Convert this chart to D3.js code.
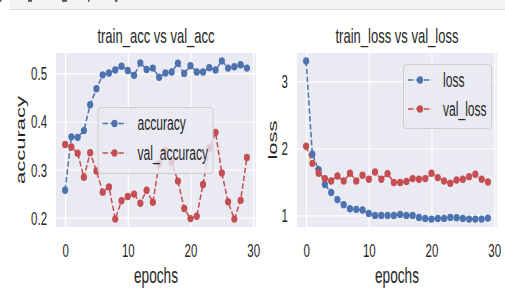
<!DOCTYPE html>
<html>
<head>
<meta charset="utf-8">
<script src="https://cdn.jsdelivr.net/npm/d3@7/dist/d3.min.js"></script>
<style>
  html, body { margin: 0; padding: 0; background: #ffffff; }
  svg { display: block; }
  text { font-family: "Liberation Sans", Arial, Helvetica, sans-serif; fill: #262626; }
</style>
</head>
<body>
<svg id="chart" width="505" height="293"></svg>
<script>
// ---------------- data ----------------
const epochs = [0,1,2,3,4,5,6,7,8,9,10,11,12,13,14,15,16,17,18,19,20,21,22,23,24,25,26,27,28,29];
const accuracy = [0.257, 0.368, 0.367, 0.381, 0.435, 0.468, 0.497, 0.501, 0.507, 0.515,
                  0.506, 0.496, 0.522, 0.508, 0.511, 0.492, 0.501, 0.503, 0.521, 0.500,
                  0.516, 0.503, 0.503, 0.512, 0.507, 0.526, 0.511, 0.514, 0.518, 0.511];
const valAccuracy = [0.352, 0.347, 0.334, 0.284, 0.335, 0.297, 0.253, 0.264, 0.197, 0.235,
                     0.244, 0.249, 0.230, 0.257, 0.232, 0.312, 0.340, 0.315, 0.276, 0.219,
                     0.198, 0.203, 0.269, 0.345, 0.377, 0.293, 0.233, 0.197, 0.236, 0.325];
const loss = [3.30, 1.91, 1.68, 1.46, 1.34, 1.235, 1.16, 1.10, 1.09, 1.08,
              1.03, 1.00, 1.00, 1.00, 1.00, 1.015, 1.00, 1.00, 0.97, 0.955,
              0.945, 0.955, 0.955, 0.97, 0.965, 0.955, 0.945, 0.945, 0.945, 0.96];
const valLoss = [2.03, 1.775, 1.627, 1.548, 1.513, 1.587, 1.513, 1.627, 1.513, 1.597,
                 1.538, 1.646, 1.538, 1.622, 1.489, 1.489, 1.504, 1.548, 1.538, 1.548,
                 1.627, 1.563, 1.513, 1.479, 1.528, 1.538, 1.577, 1.612, 1.538, 1.498];
const xTicks = [0, 10, 20, 30];
const accTicks = [0.2, 0.3, 0.4, 0.5];
const lossTicks = [1, 2, 3];
const leftTitle = "train_acc vs val_acc";
const rightTitle = "train_loss vs val_loss";
const xLabel = "epochs";

// ---------------- style ----------------
const BLUE = "#4C72B0", RED = "#C44E52";
const K = 0.62; // horizontal squeeze of the reference image
const svg = d3.select("#chart");

// top notebook strip (only the bottoms of a cut-off code line are visible)
svg.append("rect").attr("x", 10).attr("y", 0).attr("width", 495).attr("height", 9.5).attr("fill", "#f4f4f4");
svg.append("line").attr("x1", 10).attr("x2", 505).attr("y1", 9.5).attr("y2", 9.5)
   .attr("stroke", "#dcdcdc").attr("stroke-width", 1);
const stubs = [[0, 1.5], [28, 4], [62, 5], [88, 1.5], [115, 2.5]];
svg.selectAll(null).data(stubs).enter().append("rect")
   .attr("x", d => d[0]).attr("y", 0).attr("width", d => d[1]).attr("height", 1.8)
   .attr("fill", "#555");

function ctext(g, x, y, str, size, anchor, rotate) {
  return g.append("text")
    .attr("transform", `translate(${x},${y}) scale(${K},1)` + (rotate ? " rotate(-90)" : ""))
    .attr("text-anchor", anchor)
    .style("font-size", size + "px")
    .text(str);
}

function panel(cfg) {
  const g = svg.append("g");
  const pad = (lo, hi) => { const d = (hi - lo) * 0.05; return [lo - d, hi + d]; };
  const xs = d3.scaleLinear().domain(pad(d3.min(epochs), d3.max(epochs))).range([cfg.x0, cfg.x1]);
  const all = cfg.series.flatMap(s => s.data);
  const ys = d3.scaleLinear().domain(pad(d3.min(all), d3.max(all))).range([cfg.y1, cfg.y0]);

  g.append("rect").attr("x", cfg.x0).attr("y", cfg.y0)
    .attr("width", cfg.x1 - cfg.x0).attr("height", cfg.y1 - cfg.y0).attr("fill", "#EAEAF2");

  // grid via axes
  const gx = g.append("g").attr("transform", `translate(0,${cfg.y1})`)
    .call(d3.axisBottom(xs).tickValues(xTicks).tickSize(-(cfg.y1 - cfg.y0)).tickFormat(d3.format("d")));
  const gy = g.append("g").attr("transform", `translate(${cfg.x0},0)`)
    .call(d3.axisLeft(ys).tickValues(cfg.yTicks).tickSize(-(cfg.x1 - cfg.x0)).tickFormat(cfg.yFmt));
  [gx, gy].forEach(a => {
    a.select(".domain").remove();
    a.selectAll(".tick line").attr("stroke", "#ffffff").attr("stroke-width", 1.2);
  });
  gx.selectAll(".tick text")
    .attr("x", null).attr("y", null).attr("dy", null)
    .attr("transform", `translate(0,29.5) scale(${K},1)`)
    .attr("text-anchor", "middle")
    .style("font-size", "18.5px").style("font-family", "Liberation Sans, Arial, sans-serif").attr("fill", "#262626");
  gy.selectAll(".tick text")
    .attr("x", null).attr("y", null).attr("dy", null)
    .attr("transform", `translate(-9,6.5) scale(${K},1)`)
    .attr("text-anchor", "end")
    .style("font-size", "18.5px").style("font-family", "Liberation Sans, Arial, sans-serif").attr("fill", "#262626");

  // series
  const line = d3.line().x((d, i) => xs(epochs[i])).y(d => ys(d));
  cfg.series.forEach(s => {
    g.append("path").datum(s.data).attr("d", line).attr("fill", "none")
      .attr("stroke", s.color).attr("stroke-width", 1.5).attr("stroke-dasharray", "5.5,2.4");
    g.selectAll(null).data(s.data).enter().append("ellipse")
      .attr("cx", (d, i) => xs(epochs[i])).attr("cy", d => ys(d))
      .attr("rx", 3.1).attr("ry", 3.7).attr("fill", s.color);
  });

  // legend
  const L = cfg.legend;
  g.append("rect").attr("x", L.x).attr("y", L.y).attr("width", L.w).attr("height", L.h)
    .attr("rx", 3).attr("fill", "#EAEAF2").attr("fill-opacity", 0.8)
    .attr("stroke", "#cccccc").attr("stroke-width", 1);
  cfg.series.forEach((s, i) => {
    const yy = L.y + L.first + i * L.step;
    g.append("line").attr("x1", L.x + 4.5).attr("x2", L.x + 28.5).attr("y1", yy).attr("y2", yy)
      .attr("stroke", s.color).attr("stroke-width", 1.5).attr("stroke-dasharray", "5.5,2.4");
    g.append("ellipse").attr("cx", L.x + 16.5).attr("cy", yy).attr("rx", 3.1).attr("ry", 3.7).attr("fill", s.color);
    ctext(g, L.x + 39.5, yy + 6.8, s.name, 19.5, "start");
  });

  // titles / labels
  ctext(g, (cfg.x0 + cfg.x1) / 2, 43, cfg.title, 21, "middle");
  ctext(g, (cfg.x0 + cfg.x1) / 2, 283, xLabel, 22, "middle");
  ctext(g, cfg.ylabX, (cfg.y0 + cfg.y1) / 2, cfg.ylabel, 22, "middle", true);
}

panel({
  x0: 56, x1: 256, y0: 53, y1: 227,
  series: [{ name: "accuracy", data: accuracy, color: BLUE },
           { name: "val_accuracy", data: valAccuracy, color: RED }],
  yTicks: accTicks, yFmt: d3.format(".1f"),
  title: leftTitle, ylabel: "accuracy", ylabX: 24.5,
  legend: { x: 98, y: 107.5, w: 115, h: 66, first: 16, step: 29.5 }
});
panel({
  x0: 297, x1: 497, y0: 53, y1: 227,
  series: [{ name: "loss", data: loss, color: BLUE },
           { name: "val_loss", data: valLoss, color: RED }],
  yTicks: lossTicks, yFmt: d3.format("d"),
  title: rightTitle, ylabel: "loss", ylabX: 277,
  legend: { x: 403.5, y: 64.5, w: 88, h: 64, first: 15.5, step: 29 }
});
</script>
</body>
</html>
